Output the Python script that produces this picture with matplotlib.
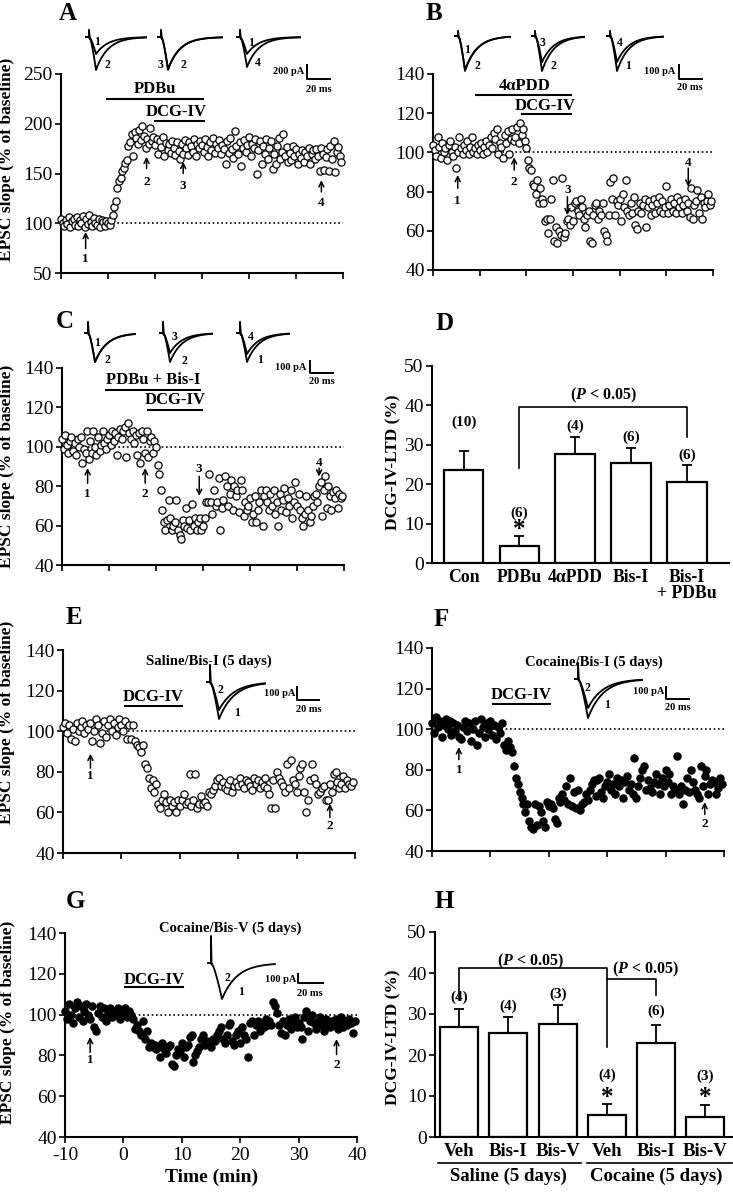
import numpy as np
import matplotlib
matplotlib.use('Agg')
import matplotlib.pyplot as plt
from matplotlib.transforms import blended_transform_factory

plt.rcParams['font.family'] = ['Liberation Serif', 'DejaVu Serif']
plt.rcParams['mathtext.fontset'] = 'custom'
plt.rcParams['mathtext.it'] = 'Liberation Serif:italic:bold'
plt.rcParams['mathtext.rm'] = 'Liberation Serif:bold'

# ---------------- data ----------------
# EPSC slope (% of baseline), one sample every 20 s starting at -10 min
a_epsc = [104, 100, 97, 103, 99, 106, 96, 102, 104, 98, 106, 97, 103, 100, 107,
          96, 104, 99, 108, 101, 97, 105, 100, 98, 104, 96, 103, 101, 97, 102,
          100, 98, 103, 108, 116, 122, 135, 142, 145, 153, 156, 161, 164, 178, 182,
          190, 168, 192, 186, 180, 194, 184, 198, 188, 176, 185, 180, 196, 183, 187,
          179, 185, 170, 183, 177, 187, 168, 181, 174, 180, 171, 183, 176, 169, 182,
          173, 165, 180, 170, 184, 176, 169, 182, 178, 172, 185, 168, 180, 176, 183,
          179, 172, 185, 177, 168, 182, 174, 186, 171, 180, 176, 184, 170, 179, 175,
          160, 183, 171, 186, 175, 166, 193, 178, 170, 182, 158, 176, 184, 172, 179,
          187, 168, 180, 176, 185, 149, 174, 183, 160, 178, 170, 185, 165, 176, 183,
          155, 170, 160, 178, 186, 165, 172, 190, 168, 177, 162, 171, 164, 178, 168,
          175, 160, 170, 166, 174, 162, 172, 168, 176, 160, 170, 174, 165, 175, 168,
          153, 176, 170, 154, 167, 175, 153, 178, 165, 183, 152, 172, 177, 168, 162]
b_epsc = [104, 101, 98, 108, 103, 97, 105, 100, 102, 96, 104, 106, 100, 98, 103,
          92, 100, 108, 102, 99, 104, 101, 106, 99, 103, 108, 100, 102, 99, 104,
          101, 105, 99, 103, 106, 100, 104, 108, 102, 110, 107, 112, 99, 105, 103,
          97, 109, 105, 111, 99, 107, 112, 106, 108, 113, 105, 115, 109, 112, 106,
          102, 96, 92, 91, 84, 83, 79, 86, 74, 82, 76, 74, 65, 66, 59,
          66, 76, 86, 55, 62, 54, 60, 58, 87, 57, 59, 65, 66, 63, 72,
          65, 74, 75, 70, 68, 76, 72, 66, 62, 68, 70, 55, 54, 68, 73,
          74, 66, 70, 68, 74, 60, 58, 55, 68, 85, 76, 87, 68, 75, 73,
          76, 65, 79, 72, 86, 70, 68, 74, 69, 77, 63, 61, 70, 74, 69,
          73, 76, 62, 72, 75, 68, 73, 76, 69, 74, 77, 70, 75, 69, 72,
          83, 69, 73, 76, 70, 74, 69, 77, 72, 75, 69, 73, 76, 70, 74,
          67, 82, 66, 73, 75, 81, 69, 77, 66, 74, 72, 75, 79, 73, 75]
c_epsc = [104, 99, 106, 101, 97, 103, 105, 98, 102, 96, 104, 100, 105, 92, 99,
          97, 108, 94, 103, 97, 108, 100, 96, 105, 98, 101, 108, 102, 99, 104,
          106, 101, 108, 103, 107, 96, 105, 109, 104, 108, 110, 95, 112, 107, 104,
          108, 102, 106, 96, 107, 92, 108, 104, 97, 108, 95, 103, 105, 97, 103,
          100, 91, 86, 78, 68, 62, 58, 63, 73, 64, 58, 60, 62, 73, 58,
          55, 53, 63, 60, 69, 59, 63, 58, 71, 60, 64, 58, 62, 64, 58,
          60, 64, 72, 72, 86, 72, 66, 78, 70, 72, 84, 58, 69, 73, 85,
          80, 70, 76, 83, 68, 80, 75, 78, 67, 83, 78, 65, 72, 68, 70,
          74, 62, 66, 75, 62, 68, 72, 78, 60, 75, 78, 72, 68, 76, 70,
          78, 66, 72, 60, 76, 68, 73, 79, 67, 74, 70, 78, 64, 72, 82,
          70, 76, 68, 64, 60, 66, 75, 68, 62, 65, 70, 75, 76, 72, 80,
          82, 65, 78, 85, 69, 80, 75, 68, 77, 74, 78, 69, 76, 74, 75]
e_epsc = [102, 104, 99, 103, 96, 101, 95, 104, 100, 102, 105, 99, 103, 101, 104,
          95, 100, 106, 103, 94, 99, 105, 97, 103, 106, 100, 104, 98, 102, 106,
          103, 100, 105, 96, 103, 96, 103, 95, 93, 92, 90, 93, 84, 82, 77,
          72, 76, 70, 74, 64, 62, 66, 69, 65, 60, 66, 63, 65, 60, 66,
          63, 66, 69, 64, 65, 79, 63, 66, 79, 62, 64, 68, 64, 65, 63,
          70, 69, 71, 73, 76, 77, 73, 75, 72, 71, 74, 76, 70, 73, 75,
          73, 77, 74, 72, 76, 75, 73, 71, 77, 74, 76, 72, 75, 73, 77,
          72, 69, 62, 76, 62, 80, 77, 75, 73, 70, 84, 72, 86, 76, 74,
          70, 78, 82, 84, 70, 60, 66, 76, 84, 77, 74, 69, 70, 72, 73,
          66, 66, 74, 70, 79, 80, 75, 72, 74, 78, 72, 76, 74, 73, 75]
f_epsc = [103, 98, 106, 101, 104, 96, 102, 105, 100, 104, 97, 103, 99, 102, 96,
          95, 101, 104, 99, 103, 94, 100, 104, 92, 98, 105, 101, 96, 103, 100,
          104, 97, 102, 95, 101, 98, 103, 92, 90, 94, 91, 89, 82, 76, 73,
          69, 66, 63, 59, 63, 55, 52, 51, 63, 53, 62, 59, 55, 52, 64,
          62, 63, 61, 56, 54, 66, 64, 68, 65, 72, 63, 76, 62, 69, 61,
          70, 60, 63, 64, 68, 65, 70, 73, 75, 67, 75, 76, 69, 66, 72,
          74, 78, 70, 73, 68, 76, 72, 75, 66, 74, 77, 70, 73, 68, 86,
          66, 72, 76, 80, 82, 70, 75, 71, 69, 74, 78, 73, 68, 76, 72,
          80, 74, 78, 68, 72, 70, 87, 68, 72, 63, 70, 76, 69, 80, 74,
          70, 68, 66, 82, 72, 77, 80, 68, 73, 75, 74, 68, 71, 76, 73]
g_epsc = [102, 98, 105, 100, 96, 103, 106, 99, 104, 97, 102, 105, 100, 98, 104,
          94, 92, 101, 104, 99, 103, 97, 101, 103, 99, 102, 100, 103, 98, 102,
          101, 103, 99, 102, 100, 98, 93, 95, 92, 90, 97, 88, 92, 84, 86,
          84, 85, 83, 84, 79, 86, 83, 81, 84, 85, 76, 75, 80, 83, 82,
          86, 79, 84, 85, 89, 90, 77, 80, 82, 84, 88, 90, 85, 87, 86,
          84, 88, 87, 90, 92, 94, 88, 86, 90, 95, 96, 87, 85, 90, 92,
          86, 94, 90, 88, 79, 96, 97, 90, 95, 97, 92, 96, 94, 98, 95,
          97, 95, 106, 104, 101, 95, 91, 97, 90, 95, 98, 93, 96, 99, 94,
          96, 94, 88, 99, 102, 92, 97, 100, 96, 93, 97, 99, 95, 92, 98,
          96, 94, 97, 95, 98, 93, 96, 99, 94, 97, 95, 98, 96, 91, 97]

# bar charts
d_groups = ['Con', 'PDBu', '4\u03b1PDD', 'Bis-I', 'Bis-I\n+ PDBu']
d_ltd = [23.5, 4.4, 27.7, 25.3, 20.6]
d_sem = [4.8, 2.5, 4.2, 3.9, 4.2]
d_n = ['(10)', '(6)', '(4)', '(6)', '(6)']
h_groups = ['Veh', 'Bis-I', 'Bis-V', 'Veh', 'Bis-I', 'Bis-V']
h_ltd = [26.9, 25.4, 27.5, 5.4, 23.0, 5.0]
h_sem = [4.3, 3.9, 4.7, 2.6, 4.4, 2.7]
h_n = ['(4)', '(4)', '(3)', '(4)', '(6)', '(3)']

W, H = 733, 1199
fig = plt.figure(figsize=(W / 100, H / 100), dpi=100)


def add_ax(l, t, r, b):
    return fig.add_axes([l / W, 1 - b / H, (r - l) / W, (b - t) / H])


BOLD = dict(fontweight='bold')


def style(ax, xlim, ylim, yticks, xticks=None):
    ax.set_xlim(*xlim)
    ax.set_ylim(*ylim)
    for s in ['top', 'right']:
        ax.spines[s].set_visible(False)
    for s in ['left', 'bottom']:
        ax.spines[s].set_linewidth(1.5)
    ax.set_yticks(yticks)
    if xticks is not None:
        ax.set_xticks(xticks)
        ax.set_xticklabels([])
    ax.tick_params(direction='out', length=4, width=1.2, labelsize=14, pad=2)


def timecourse(ax, vals, xmax, ylim, filled, arrows, drugs, title=None):
    t = -10 + np.arange(len(vals)) / 3.0
    style(ax, (-10, xmax), ylim, np.arange(ylim[0], ylim[1] + 1, 20 if ylim[1] < 200 else 50),
          np.arange(-10, xmax + 1, 10))
    ax.plot([-10, xmax], [100, 100], ls=(0, (1, 1.6)), color='black', lw=1.2, zorder=1)
    ax.scatter(t, vals, s=27, facecolors='black' if filled else 'white',
               edgecolors='black', linewidths=0.9, zorder=3, clip_on=False)
    for (x, tail, tip, ly, lab) in arrows:
        ax.annotate('', xy=(x, tip), xytext=(x, tail),
                    arrowprops=dict(arrowstyle='->', lw=1.1, color='black',
                                    shrinkA=0, shrinkB=0, mutation_scale=9), zorder=5)
        ax.text(x, ly, lab, ha='center', va='center', fontsize=9.5, **BOLD)
    for (x0, x1, y, tx, ty, lab) in drugs:
        ax.plot([x0, x1], [y, y], color='black', lw=1.5, clip_on=False)
        ax.text(tx, ty, lab, ha='center', va='center', fontsize=12, **BOLD)
    if title:
        ax.text(title[0], title[1], title[2], ha='center', va='center', fontsize=10.5,
                clip_on=False, **BOLD)


# ---------------- panel A ----------------
axA = add_ax(61, 74, 343, 273)
timecourse(axA, a_epsc, 50, (50, 250), False,
           [(-4.76, 74.5, 91.3, 64.4, '1'), (8.2, 155, 166.8, 141.6, '2'),
            (16.0, 150, 161.7, 137.2, '3'), (45.4, 131.5, 143.3, 120.5, '4')],
           [(-0.2, 20.3, 225, 10, 234.5, 'PDBu'), (10, 20.4, 203, 14.6, 212, 'DCG-IV')])

# ---------------- panel B ----------------
axB = add_ax(433, 74, 713, 270)
timecourse(axB, b_epsc, 50, (40, 140), False,
           [(-4.7, 81.7, 88.5, 75.4, '1'), (7.4, 91, 97.5, 85, '2'),
            (18.8, 77.4, 68, 80.8, '3'), (44.7, 92, 82.5, 94.5, '4')],
           [(-0.8, 19.6, 129.3, 9.7, 133.7, '4\u03b1PDD'), (9, 19.6, 119.4, 14, 123.8, 'DCG-IV')])

# ---------------- panel C ----------------
axC = add_ax(62, 368, 344, 565)
timecourse(axC, c_epsc, 50, (40, 140), False,
           [(-4.55, 81.5, 89.2, 76, '1'), (7.7, 81.5, 89.2, 76, '2'),
            (19.2, 85, 75.1, 88.5, '3'), (44.7, 89.2, 84.9, 92, '4')],
           [(-0.6, 19.4, 129, 9.5, 134, 'PDBu + Bis-I'), (8.4, 19.7, 118.8, 14, 124, 'DCG-IV')])

# ---------------- panel E ----------------
axE = add_ax(63, 650, 355, 853)
timecourse(axE, e_epsc, 40, (40, 140), False,
           [(-5.3, 81.8, 88.9, 78, '1'), (35.7, 57.5, 64.3, 53.4, '2')],
           [(0.6, 10.3, 112.5, 5.4, 117, 'DCG-IV')],
           (14.9, 134.3, 'Saline/Bis-I (5 days)'))

# ---------------- panel F ----------------
axF = add_ax(432, 648, 724, 851)
timecourse(axF, f_epsc, 40, (40, 140), True,
           [(-5.4, 85, 91.2, 79.7, '1'), (36.7, 58, 64.1, 53.5, '2')],
           [(0.5, 10.2, 112.6, 5.3, 116.8, 'DCG-IV')],
           (17.7, 133.1, 'Cocaine/Bis-I (5 days)'))

# ---------------- panel G ----------------
axG = add_ax(65, 933, 357, 1137)
timecourse(axG, g_epsc, 40, (40, 140), True,
           [(-5.7, 81.5, 89, 77.9, '1'), (36.5, 80.4, 88, 75.5, '2')],
           [(0.3, 10.2, 113.4, 5.2, 117.2, 'DCG-IV')],
           (18.2, 142.5, 'Cocaine/Bis-V (5 days)'))
axG.set_xticklabels(['-10', '0', '10', '20', '30', '40'])
axG.tick_params(axis='x', labelsize=14, pad=3)


# ---------------- bar panels ----------------
def barpanel(ax, groups, vals, sems, ns, xlim, width, n_y, star_idx, lab_fs):
    x = np.arange(len(vals))
    style(ax, xlim, (0, 50), np.arange(0, 51, 10))
    ax.bar(x, vals, width=width, color='white', edgecolor='black', linewidth=1.6, zorder=2)
    ax.errorbar(x, vals, yerr=[np.zeros(len(vals)), sems], fmt='none', ecolor='black',
                elinewidth=1.3, capsize=3.5, capthick=1.3, zorder=1)
    ax.set_xticks(x)
    ax.set_xticklabels(groups, fontsize=lab_fs, fontweight='bold', linespacing=0.95)
    ax.tick_params(axis='x', length=0, pad=4)
    for i in range(len(vals)):
        ax.text(x[i], n_y[i], ns[i], ha='center', va='center', fontsize=11, **BOLD)
    for i, sy in star_idx:
        ax.text(x[i], sy, '*', ha='center', va='center', fontsize=18, **BOLD)
    return x


axD = add_ax(432, 366, 729, 563)
xd = barpanel(axD, d_groups, d_ltd, d_sem, d_n, (-0.565, 4.75), 0.71,
              [35.6, 12.6, 34.7, 32.0, 27.3], [(1, 8.5)], 12.8)
axD.plot([1, 1, 4, 4], [24, 39.6, 39.6, 32], color='black', lw=1.2)
axD.text(2.5, 42.6, r'($\mathit{P}$ < 0.05)', ha='center', va='center', fontsize=11.5, **BOLD)

axH = add_ax(435, 932, 732, 1137)
xh = barpanel(axH, h_groups, h_ltd, h_sem, h_n, (-0.49, 5.54), 0.77,
              [34.2, 31.8, 34.8, 15.1, 30.6, 14.9], [(3, 9.6), (5, 9.6)], 13.5)
axH.plot([0, 0, 3, 3], [33.4, 41.1, 41.1, 22], color='black', lw=1.2)
axH.plot([3, 4, 4], [38.6, 38.6, 34.6], color='black', lw=1.2)
axH.text(1.44, 42.8, r'($\mathit{P}$ < 0.05)', ha='center', va='center', fontsize=11.5, **BOLD)
axH.text(3.78, 40.9, r'($\mathit{P}$ < 0.05)', ha='center', va='center', fontsize=11.5, **BOLD)
trH = blended_transform_factory(axH.transData, axH.transAxes)
axH.plot([-0.43, 2.47], [-0.127, -0.127], color='black', lw=1.2, transform=trH, clip_on=False)
axH.plot([2.6, 5.54], [-0.127, -0.127], color='black', lw=1.2, transform=trH, clip_on=False)
axH.text(1.0, -0.19, 'Saline (5 days)', ha='center', va='center', fontsize=13.5,
         transform=trH, **BOLD)
axH.text(4.0, -0.19, 'Cocaine (5 days)', ha='center', va='center', fontsize=13.5,
         transform=trH, **BOLD)

# ---------------- overlay: letters, labels, example traces ----------------
ov = fig.add_axes([0, 0, 1, 1])
ov.set_xlim(0, W)
ov.set_ylim(H, 0)
ov.axis('off')

for lab, x, y in [('A', 68, 13), ('B', 434, 13), ('C', 65, 322), ('D', 445, 323),
                  ('E', 74, 618), ('F', 441, 620), ('G', 75, 901), ('H', 444, 901)]:
    ov.text(x, y, lab, ha='center', va='center', fontsize=18, **BOLD)

for x, y in [(7, 159), (7, 466), (7, 722), (8, 1022)]:
    ov.text(x, y, 'EPSC slope (% of baseline)', rotation=90, ha='center', va='center',
            fontsize=12.5, **BOLD)
for x, y in [(393, 462), (393, 1037)]:
    ov.text(x, y, 'DCG-IV-LTD (%)', rotation=90, ha='center', va='center',
            fontsize=12.5, **BOLD)
ov.text(212, 1177, 'Time (min)', ha='center', va='center', fontsize=14, **BOLD)


def trace(x0, y0, w, depth, art, tau, rise):
    xs = [x0, x0 + 3, x0 + 3, x0 + 3.6, x0 + 4]
    ys = [y0, y0, y0 - art, y0 + 1.5, y0 + 1]
    r = np.linspace(0, 1, 8)
    xs += list(x0 + 4 + rise * r)
    ys += list(y0 + 1 + (depth - 1) * r ** 1.3)
    d = np.linspace(0, w - 4 - rise, 50)
    xs += list(x0 + 4 + rise + d)
    ys += list(y0 + depth * np.exp(-d / tau))
    ov.plot(xs, ys, color='black', lw=1.3)


# (x start, baseline y, width, depths, artifact, tau, rise)
trace_sets = [
    (86, 37, 60, (17, 33), 7, 12, 6), (158, 37, 64, (32, 33), 7, 12, 6),
    (237, 37, 63, (17, 30), 7, 12, 6),
    (455, 36, 55, (34, 35), 5, 12, 6), (532, 36, 52, (26, 35), 5, 12, 6),
    (607, 36, 56, (26, 35), 5, 12, 6),
    (85, 333, 50, (29, 29), 11, 12, 6), (160, 333, 52, (20, 29), 11, 12, 6),
    (237, 333, 52, (21, 29), 11, 12, 6),
    (207, 682, 58, (28, 37), 17, 15, 8), (575, 679, 67, (29, 39), 16, 15, 9),
    (208, 963, 67, (36,), 27, 15, 10),
]
for x0, y0, w, deps, art, tau, rise in trace_sets:
    for dp in deps:
        trace(x0, y0, w, dp, art, tau, rise)

trace_labels = [
    (97, 42, '1'), (107, 65, '2'), (161, 65, '3'), (183, 65, '2'), (251, 43, '1'), (258, 63, '4'),
    (467, 50, '1'), (477, 66, '2'), (543, 43, '3'), (553, 66, '2'), (620, 43, '4'), (628, 66, '1'),
    (97, 343, '1'), (107, 360, '2'), (174, 337, '3'), (184, 361, '2'), (251, 337, '4'), (260, 360, '1'),
    (220, 690, '2'), (237, 713, '1'), (587, 688, '2'), (607, 705, '1'),
    (227, 978, '2'), (241, 992, '1'),
]
for x, y, s in trace_labels:
    ov.text(x, y, s, ha='center', va='center', fontsize=8.5, **BOLD)

# scale bars: (text right x, text y, label, bar x, bar top, bar bottom, bar right, ms x, ms y)
scale_bars = [
    (304, 72, '200 pA', 307, 65, 79, 330, 319, 89),
    (675, 72, '100 pA', 679, 65, 79, 702, 690, 88),
    (306, 367, '100 pA', 310, 361, 373, 333, 322, 382),
    (295, 693, '100 pA', 297, 687, 700, 319, 309, 710),
    (664, 692, '100 pA', 666, 687, 699, 689, 678, 708),
    (296, 980, '100 pA', 298, 974, 983, 323, 310, 993),
]
for tx, ty, lab, bx, bt, bb, br, mx, my in scale_bars:
    ov.text(tx, ty, lab, ha='right', va='center', fontsize=7.5, **BOLD)
    ov.plot([bx, bx, br], [bt, bb, bb], color='black', lw=1.4)
    ov.text(mx, my, '20 ms', ha='center', va='center', fontsize=7.5, **BOLD)

fig.savefig('out.png', dpi=100)
